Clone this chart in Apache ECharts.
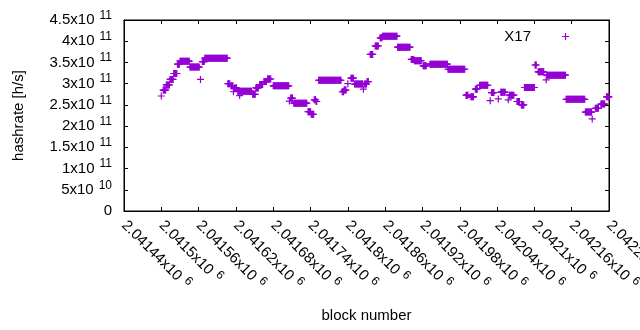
<!DOCTYPE html>
<html>
<head>
<meta charset="utf-8">
<script src="https://cdn.jsdelivr.net/npm/echarts@6/dist/echarts.min.js"></script>
<style>
  html, body { margin: 0; padding: 0; background: #fff; }
  #chart { width: 640px; height: 330px; }
</style>
</head>
<body>
<div id="chart"></div>
<script>
// hashrate runs: first block, last block, hashrate [h/s]
const runFirst = [
  2041500, 2041503, 2041508, 2041514, 2041520, 2041526, 2041530, 2041546, 2041563, 2041566,
  2041570, 2041607, 2041612, 2041616, 2041618, 2041623, 2041626, 2041647, 2041652, 2041658,
  2041665, 2041671, 2041680, 2041706, 2041708, 2041713, 2041736, 2041741, 2041746, 2041749,
  2041753, 2041791, 2041794, 2041800, 2041805, 2041811, 2041825, 2041827, 2041831, 2041836,
  2041844, 2041852, 2041856, 2041880, 2041902, 2041907, 2041921, 2041932, 2041961, 2041990,
  2041998, 2042005, 2042012, 2042029, 2042031, 2042042, 2042046, 2042058, 2042060, 2042072,
  2042079, 2042084, 2042101, 2042106, 2042119, 2042120, 2042151, 2042182, 2042193, 2042198,
  2042207, 2042216
];
const runLast = [
  2041500, 2041507, 2041513, 2041519, 2041525, 2041529, 2041545, 2041561, 2041563, 2041569,
  2041606, 2041610, 2041615, 2041616, 2041621, 2041645, 2041626, 2041651, 2041656, 2041663,
  2041669, 2041676, 2041705, 2041706, 2041711, 2041734, 2041740, 2041745, 2041748, 2041750,
  2041789, 2041793, 2041797, 2041800, 2041809, 2041824, 2041825, 2041830, 2041833, 2041840,
  2041849, 2041855, 2041879, 2041900, 2041906, 2041918, 2041926, 2041960, 2041988, 2041993,
  2042002, 2042008, 2042025, 2042029, 2042035, 2042042, 2042053, 2042058, 2042067, 2042076,
  2042083, 2042100, 2042103, 2042115, 2042119, 2042150, 2042181, 2042192, 2042193, 2042203,
  2042213, 2042220
];
const runRate = [
  2.71e11, 2.85e11, 2.97e11, 3.10e11, 3.24e11, 3.46e11, 3.53e11, 3.39e11, 3.10e11, 3.52e11,
  3.60e11, 3.00e11, 2.95e11, 2.81e11, 2.90e11, 2.82e11, 2.72e11, 2.75e11, 2.90e11, 2.98e11,
  3.05e11, 3.11e11, 2.95e11, 2.59e11, 2.66e11, 2.54e11, 2.34e11, 2.28e11, 2.62e11, 2.58e11,
  3.08e11, 2.81e11, 2.85e11, 3.00e11, 3.13e11, 2.99e11, 2.87e11, 2.99e11, 3.05e11, 3.69e11,
  3.89e11, 4.08e11, 4.12e11, 3.86e11, 3.57e11, 3.54e11, 3.42e11, 3.46e11, 3.34e11, 2.73e11,
  2.69e11, 2.87e11, 2.96e11, 2.60e11, 2.79e11, 2.64e11, 2.80e11, 2.62e11, 2.73e11, 2.58e11,
  2.50e11, 2.91e11, 3.44e11, 3.28e11, 3.09e11, 3.20e11, 2.63e11, 2.33e11, 2.17e11, 2.42e11,
  2.52e11, 2.69e11
];
const seriesName = 'X17';
const xMin = 2041440, xMax = 2042220, xStep = 60;
const yMax = 4.5e11, yStep = 0.5e11;

// one point per block, each block of a run carries the run's hashrate
const points = [];
runFirst.forEach((b0, i) => {
  for (let b = b0; b <= runLast[i]; b++) points.push([b, runRate[i]]);
});

const FONT = 'Liberation Sans';
const PLUS = 'path://M2.9,0h1.2v2.9h2.9v1.2h-2.9v2.9h-1.2v-2.9h-2.9v-1.2h2.9z';
const PURPLE = '#9400d3';

// gnuplot-ish "4.5x10^11" labels
const rich = {
  m: { fontFamily: FONT, fontSize: 15, lineHeight: 15, color: '#000' },
  s: { fontFamily: FONT, fontSize: 12, lineHeight: 12, color: '#000', padding: [0, 0, 9, 5] }
};
function yLabel(v) {
  if (v === 0) return '{m|0}';
  const e = Math.floor(Math.log10(v) + 1e-9);
  const m = +(v / Math.pow(10, e)).toFixed(3);
  return '{m|' + m + 'x10}{s|' + e + '}';
}
function xLabel(v) {
  return '{m|' + (+(v / 1e6).toFixed(5)) + 'x10}{s|6}';
}

const chart = echarts.init(document.getElementById('chart'), null, { renderer: 'canvas' });
const tick = { show: true, inside: true, length: 4, lineStyle: { color: '#000' } };
const line = { show: true, onZero: false, lineStyle: { color: '#000', width: 1 } };

chart.setOption({
  animation: false,
  backgroundColor: '#fff',
  grid: {
    left: 124, right: 31, top: 20, bottom: 119,
    containLabel: false, outerBoundsMode: 'none',
    show: true, borderColor: '#000', borderWidth: 1
  },
  legend: {
    data: [seriesName],
    right: 66, top: 24,
    align: 'right',
    itemWidth: 7, itemHeight: 7,
    icon: PLUS,
    itemStyle: { color: PURPLE },
    textStyle: { fontFamily: FONT, fontSize: 15, color: '#000', padding: [0, 26, 0, 0] }
  },
  xAxis: [{
    type: 'value', min: xMin, max: xMax, interval: xStep,
    name: 'block number', nameLocation: 'middle', nameGap: 97,
    nameTextStyle: { fontFamily: FONT, fontSize: 15, color: '#000' },
    axisLine: line, axisTick: tick, splitLine: { show: false },
    axisLabel: {
      rotate: -45, margin: 12, formatter: xLabel, rich: rich,
      showMinLabel: true, showMaxLabel: true, hideOverlap: false
    }
  }, {
    type: 'value', position: 'top', min: xMin, max: xMax, interval: xStep,
    axisLine: line, axisTick: tick, axisLabel: { show: false }, splitLine: { show: false }
  }],
  yAxis: [{
    type: 'value', min: 0, max: yMax, interval: yStep,
    name: 'hashrate [h/s]', nameLocation: 'middle', nameGap: 98,
    nameTextStyle: { fontFamily: FONT, fontSize: 15, color: '#000' },
    axisLine: line, axisTick: tick, splitLine: { show: false },
    axisLabel: { margin: 12, formatter: yLabel, rich: rich, showMinLabel: true, showMaxLabel: true }
  }, {
    type: 'value', position: 'right', min: 0, max: yMax, interval: yStep,
    axisLine: line, axisTick: tick, axisLabel: { show: false }, splitLine: { show: false }
  }],
  series: [{
    name: seriesName,
    type: 'scatter',
    data: points,
    symbol: PLUS,
    symbolSize: 7,
    itemStyle: { color: PURPLE, opacity: 1 },
    large: false
  }]
});
</script>
</body>
</html>
